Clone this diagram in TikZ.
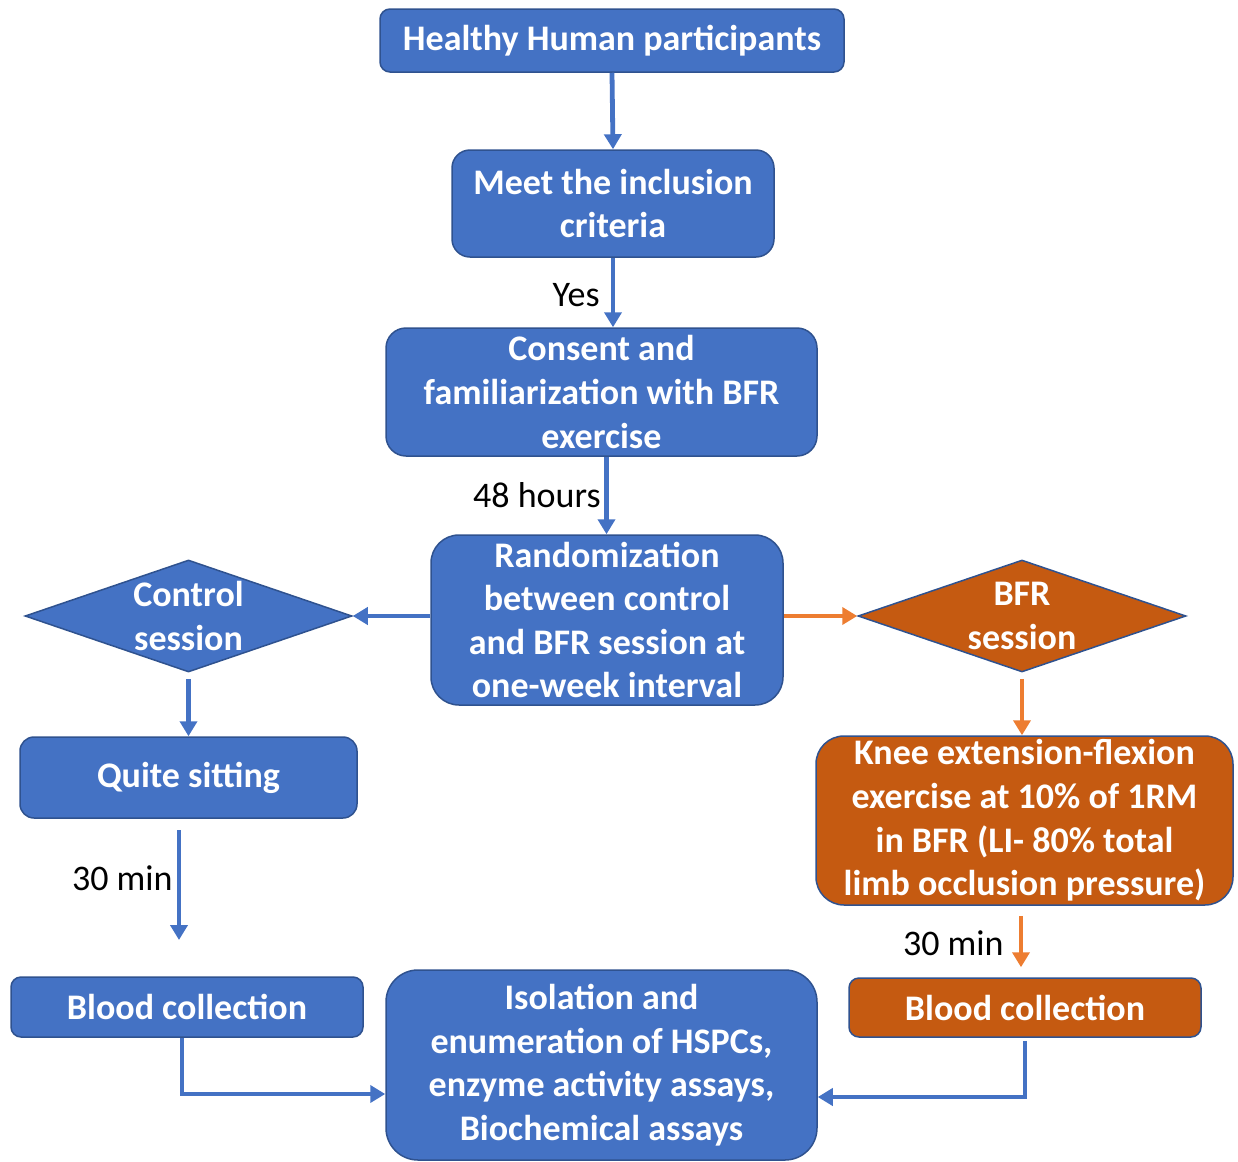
\documentclass[tikz,border=0pt]{standalone}
\usepackage{fontspec}
\setmainfont{Carlito}
\usetikzlibrary{shapes.geometric, arrows.meta, calc}
\definecolor{boxblue}{RGB}{68,114,196}
\definecolor{edgeblue}{RGB}{47,82,143}
\definecolor{boxorange}{RGB}{197,90,17}
\definecolor{arroworange}{RGB}{237,125,49}

\begin{document}
\begin{tikzpicture}[
    x=0.5pt, y=-0.5pt,
    box/.style={rectangle, draw=edgeblue, line width=0.75pt, fill=boxblue,
                text=white, align=center, inner sep=0pt,
                font=\fontsize{18}{21.8}\selectfont\bfseries},
    obox/.style={box, fill=boxorange},
    ddiam/.style={diamond, draw=edgeblue, line width=0.75pt, inner sep=0pt},
    dtext/.style={text=white, align=center,
                  font=\fontsize{18}{21.8}\selectfont\bfseries},
    barrow/.style={-{Triangle[length=7.5pt,width=8.5pt]}, line width=2.4pt, color=boxblue},
    oarrow/.style={barrow, color=arroworange},
    lbl/.style={font=\fontsize{18}{21.8}\selectfont, text=black, inner sep=1pt},
]
\useasboundingbox (0,0) rectangle (1238,1162);

% ---------------- main column ----------------
\node[box, minimum width=232pt, minimum height=31.5pt, rounded corners=5pt]
     (heal) at (612,40.5) {Healthy Human participants};
\node[box, minimum width=161pt, minimum height=53.5pt, rounded corners=9pt]
     (meet) at (613,203.5) {Meet the inclusion\\criteria};
\node[box, minimum width=215.5pt, minimum height=64pt, rounded corners=10pt]
     (cons) at (601.5,392) {Consent and\\familiarization with BFR\\exercise};
\node[box, minimum width=176pt, minimum height=85pt, rounded corners=14pt]
     (rand) at (607,620) {Randomization\\between control\\and BFR session at\\one-week interval};

% ---------------- sessions ----------------
\node[ddiam, fill=boxblue, minimum width=163.5pt, minimum height=56pt,
      label={[dtext]center:Control\\session}] (ctrl) at (188.5,616) {};
\node[ddiam, fill=boxorange, minimum width=164pt, minimum height=56pt,
      label={[dtext]center:BFR\\session}] (bfr) at (1022,616) {};

\node[box, minimum width=168.5pt, minimum height=40.5pt, rounded corners=7pt]
     (quiet) at (188.5,777.5) {Quite sitting};
\node[obox, minimum width=208.5pt, minimum height=84.5pt, rounded corners=14pt]
     (knee) at (1024.5,820.5)
     {Knee extension-flexion\\exercise at 10\% of 1RM\\in BFR (LI- 80\% total\\limb occlusion pressure)};

% ---------------- sampling ----------------
\node[box, minimum width=176pt, minimum height=30pt, rounded corners=5pt]
     (bcl) at (187,1007) {Blood collection};
\node[obox, minimum width=176pt, minimum height=29.5pt, rounded corners=5pt]
     (bcr) at (1025,1007.5) {Blood collection};
\node[box, minimum width=215.5pt, minimum height=95pt, rounded corners=16pt]
     (iso) at (601.5,1065)
     {Isolation and\\enumeration of HSPCs,\\enzyme activity assays,\\Biochemical assays};

% free-standing 30 min arrow under quiet sitting
\coordinate (qs1) at (179,830);
\coordinate (qs2) at (179,940);

% ---------------- connectors ----------------
\draw[barrow] (heal.south) -- (meet.north);
\draw[barrow] (meet.south) -- (meet.south |- cons.north);
\draw[barrow] ([xshift=2.5pt]cons.south) -- ([xshift=2.5pt]cons.south |- rand.north);
\draw[barrow] (rand.west |- ctrl.east) -- (ctrl.east);
\draw[oarrow] (rand.east |- bfr.west) -- (bfr.west);
\draw[barrow, shorten <=3pt] (ctrl.south) -- (ctrl.south |- quiet.north);
\draw[oarrow, shorten <=3pt] (bfr.south) -- (bfr.south |- knee.north);
\draw[barrow] (qs1) -- (qs2);
\draw[oarrow, shorten <=5pt, shorten >=5pt]
     ([xshift=-1.75pt]knee.south) -- ([xshift=-1.75pt]knee.south |- bcr.north);
\draw[barrow] ([xshift=-2.5pt]bcl.south) |- ([yshift=-14.5pt]iso.west);
\draw[barrow] ([yshift=-1.5pt]bcr.south) |- ([yshift=-16pt]iso.east);

% ---------------- labels ----------------
\node[lbl, anchor=east] (yes) at (602,295) {Yes};
\node[lbl, anchor=east] (h48) at (603,495) {48 hours};
\node[lbl, anchor=east] (m30l) at (175,878) {30 min};
\node[lbl, anchor=east] (m30r) at (1006,943) {30 min};

\end{tikzpicture}
\end{document}
